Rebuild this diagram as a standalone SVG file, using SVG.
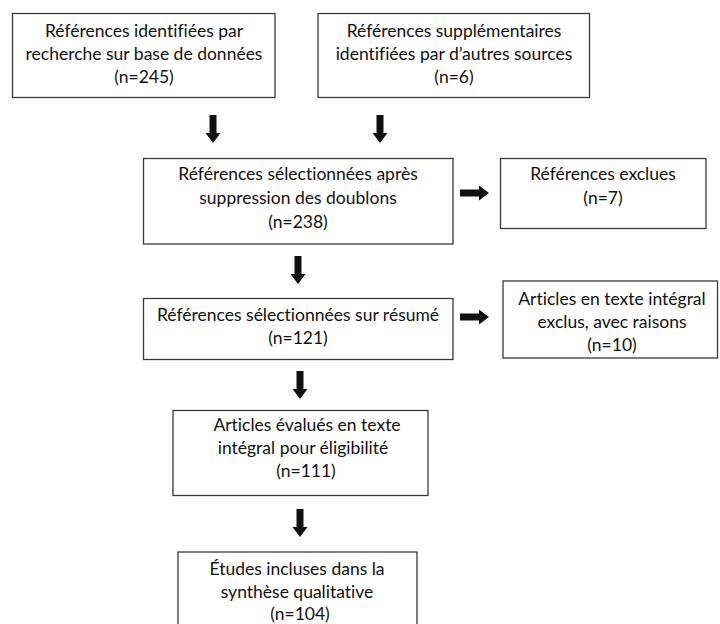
<svg xmlns="http://www.w3.org/2000/svg" width="720" height="624" viewBox="0 0 720 624">
<defs>
<style>
.box{fill:#ffffff;stroke:#3a3a3a;stroke-width:1.3}
.t{font-family:Lato,"Liberation Sans",sans-serif;font-size:17.5px;fill:#111111;text-anchor:middle;font-variant-ligatures:none}
.arr{fill:#111111}
</style>
<path id="down" d="M-3.5,0 H3.5 V18 H7.5 L0,28 L-7.5,18 H-3.5 Z"/>
<path id="right" d="M0,-3.5 H19 V-7.5 L29,0 L19,7.5 V3.5 H0 Z"/>
</defs>
<rect width="720" height="624" fill="#ffffff"/>
<g id="n1">
<rect class="box" x="12.5" y="13.5" width="262.5" height="84"/>
<text class="t" x="144" y="37">Références identifiées par</text>
<text class="t" x="144" y="60">recherche sur base de données</text>
<text class="t" x="144" y="83">(n=245)</text>
</g>
<g id="n2">
<rect class="box" x="318" y="13.5" width="271.5" height="84"/>
<text class="t" x="454" y="37">Références supplémentaires</text>
<text class="t" x="454" y="60">identifiées par d’autres sources</text>
<text class="t" x="454" y="83">(n=6)</text>
</g>
<g id="n3">
<rect class="box" x="143.5" y="158.5" width="309.5" height="85.5"/>
<text class="t" x="298" y="180">Références sélectionnées après</text>
<text class="t" x="298" y="204">suppression des doublons</text>
<text class="t" x="298" y="228">(n=238)</text>
</g>
<g id="n4">
<rect class="box" x="500.5" y="158.5" width="205.5" height="70"/>
<text class="t" x="603" y="180">Références exclues</text>
<text class="t" x="603" y="204">(n=7)</text>
</g>
<g id="n5">
<rect class="box" x="143.5" y="298.5" width="309.5" height="61"/>
<text class="t" x="298" y="321">Références sélectionnées sur résumé</text>
<text class="t" x="298" y="344">(n=121)</text>
</g>
<g id="n6">
<rect class="box" x="503" y="281" width="214.5" height="77"/>
<text class="t" x="612" y="305">Articles en texte intégral</text>
<text class="t" x="612" y="328">exclus, avec raisons</text>
<text class="t" x="612" y="351">(n=10)</text>
</g>
<g id="n7">
<rect class="box" x="173" y="410.5" width="255" height="85"/>
<text class="t" x="307" y="431">Articles évalués en texte</text>
<text class="t" x="303" y="454">intégral pour éligibilité</text>
<text class="t" x="306" y="477">(n=111)</text>
</g>
<g id="n8">
<rect class="box" x="178" y="552" width="239" height="80"/>
<text class="t" x="297" y="575">Études incluses dans la</text>
<text class="t" x="297" y="598">synthèse qualitative</text>
<text class="t" x="300" y="620">(n=104)</text>
</g>
<g id="connectors" class="arr">
<use href="#down" x="213" y="115"/>
<use href="#down" x="380" y="115"/>
<use href="#down" x="298" y="256"/>
<use href="#down" x="300" y="371"/>
<use href="#down" x="300" y="509"/>
<use href="#right" x="460" y="193"/>
<use href="#right" x="460" y="317"/>
</g>
</svg>
